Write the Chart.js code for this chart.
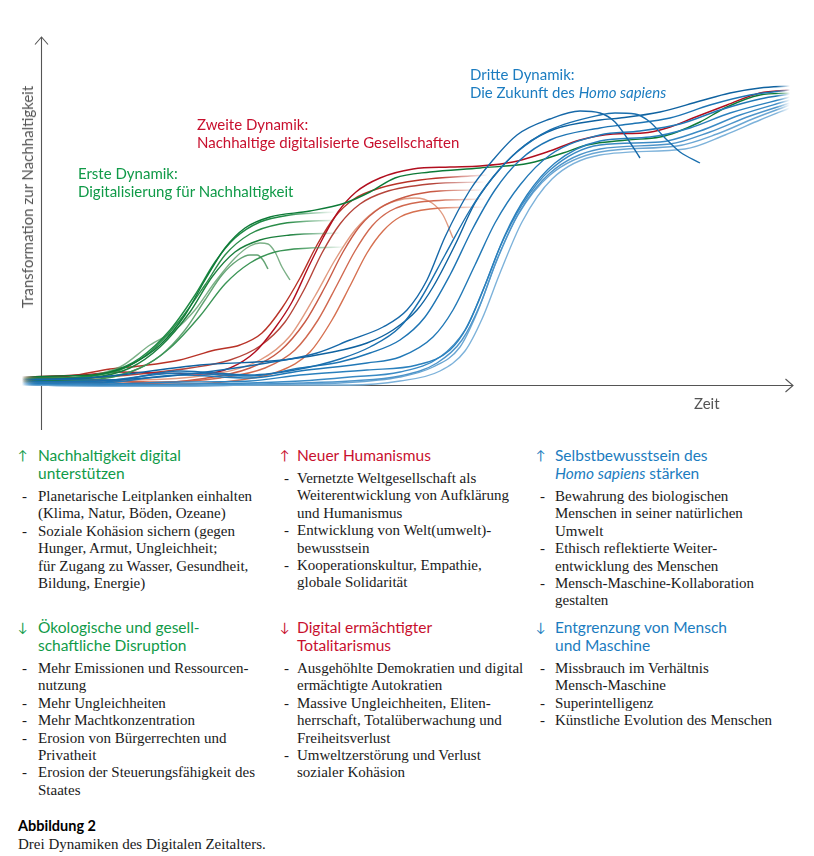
<!DOCTYPE html>
<html lang="de">
<head>
<meta charset="utf-8">
<title>Drei Dynamiken des Digitalen Zeitalters</title>
<script src="https://cdn.jsdelivr.net/npm/chart.js@4.4.1/dist/chart.umd.min.js"></script>
<style>
  html, body { margin:0; padding:0; background:#fff; }
  #page { position:relative; width:814px; height:856px; overflow:hidden; }
  #chart { position:absolute; left:0; top:0; }
  .lbl { position:absolute; font-family:Lato, sans-serif; font-size:15px; line-height:18px; white-space:nowrap; }
  .green { color:#109a48; }
  .red { color:#c8102e; }
  .blue { color:#1b7cc0; }
  .grey { color:#555; }
  #ytitle { left:27px; top:197px; transform:translate(-50%,-50%) rotate(-90deg); }
  .blk { position:absolute; }
  .head { position:relative; font-family:Lato, sans-serif; font-size:15.5px; line-height:18px; white-space:nowrap; }
  .head .arr { position:absolute; left:0; top:0; font-size:13px; }
  ul { list-style:none; margin:6px 0 0 0; padding:0 0 0 var(--ind); font-family:"Liberation Serif", serif; font-size:15px; line-height:17.4px; color:#1a1a1a; white-space:nowrap; }
  li { position:relative; }
  li::before { content:"-"; position:absolute; left:calc(4px - var(--ind)); }
  #cap { position:absolute; left:18px; top:817px; }
  #cap b { display:block; font-family:Lato, sans-serif; font-size:14.5px; line-height:18px; }
  #cap span { display:block; font-family:"Liberation Serif", serif; font-size:15px; line-height:18px; color:#1a1a1a; }
</style>
</head>
<body>
<div id="page">
  <canvas id="chart" width="814" height="440"></canvas>

  <div class="lbl grey" id="ytitle">Transformation zur Nachhaltigkeit</div>
  <div class="lbl grey" style="left:694px; top:394px;">Zeit</div>
  <div class="lbl green" style="left:78px; top:164px;">Erste Dynamik:<br>Digitalisierung für Nachhaltigkeit</div>
  <div class="lbl red" style="left:197px; top:115px;">Zweite Dynamik:<br>Nachhaltige digitalisierte Gesellschaften</div>
  <div class="lbl blue" style="left:470px; top:65px;">Dritte Dynamik:<br>Die Zukunft des <i>Homo sapiens</i></div>

  <!-- Spalte 1 -->
  <div class="blk" style="left:18px; top:446px;">
    <div class="head green" style="padding-left:20px;"><span class="arr">↑</span>Nachhaltigkeit digital<br>unterstützen</div>
    <ul style="--ind:20px;">
      <li>Planetarische Leitplanken einhalten<br>(Klima, Natur, Böden, Ozeane)</li>
      <li>Soziale Kohäsion sichern (gegen<br>Hunger, Armut, Ungleichheit;<br>für Zugang zu Wasser, Gesundheit,<br>Bildung, Energie)</li>
    </ul>
  </div>
  <div class="blk" style="left:18px; top:618px;">
    <div class="head green" style="padding-left:20px;"><span class="arr">↓</span>Ökologische und gesell-<br>schaftliche Disruption</div>
    <ul style="--ind:20px;">
      <li>Mehr Emissionen und Ressourcen-<br>nutzung</li>
      <li>Mehr Ungleichheiten</li>
      <li>Mehr Machtkonzentration</li>
      <li>Erosion von Bürgerrechten und<br>Privatheit</li>
      <li>Erosion der Steuerungsfähigkeit des<br>Staates</li>
    </ul>
  </div>

  <!-- Spalte 2 -->
  <div class="blk" style="left:280px; top:446px;">
    <div class="head red" style="padding-left:17px;"><span class="arr">↑</span>Neuer Humanismus</div>
    <ul style="--ind:17px;">
      <li>Vernetzte Weltgesellschaft als<br>Weiterentwicklung von Aufklärung<br>und Humanismus</li>
      <li>Entwicklung von Welt(umwelt)-<br>bewusstsein</li>
      <li>Kooperationskultur, Empathie,<br>globale Solidarität</li>
    </ul>
  </div>
  <div class="blk" style="left:280px; top:618px;">
    <div class="head red" style="padding-left:17px;"><span class="arr">↓</span>Digital ermächtigter<br>Totalitarismus</div>
    <ul style="--ind:17px;">
      <li>Ausgehöhlte Demokratien und digital<br>ermächtigte Autokratien</li>
      <li>Massive Ungleichheiten, Eliten-<br>herrschaft, Totalüberwachung und<br>Freiheitsverlust</li>
      <li>Umweltzerstörung und Verlust<br>sozialer Kohäsion</li>
    </ul>
  </div>

  <!-- Spalte 3 -->
  <div class="blk" style="left:536px; top:446px;">
    <div class="head blue" style="padding-left:19px;"><span class="arr">↑</span>Selbstbewusstsein des<br><i>Homo sapiens</i> stärken</div>
    <ul style="--ind:19px;">
      <li>Bewahrung des biologischen<br>Menschen in seiner natürlichen<br>Umwelt</li>
      <li>Ethisch reflektierte Weiter-<br>entwicklung des Menschen</li>
      <li>Mensch-Maschine-Kollaboration<br>gestalten</li>
    </ul>
  </div>
  <div class="blk" style="left:536px; top:618px;">
    <div class="head blue" style="padding-left:19px;"><span class="arr">↓</span>Entgrenzung von Mensch<br>und Maschine</div>
    <ul style="--ind:19px;">
      <li>Missbrauch im Verhältnis<br>Mensch-Maschine</li>
      <li>Superintelligenz</li>
      <li>Künstliche Evolution des Menschen</li>
    </ul>
  </div>

  <div id="cap"><b>Abbildung 2</b><span>Drei Dynamiken des Digitalen Zeitalters.</span></div>
</div>

<script>
// Zeit (x) und Transformation (y) in den Einheiten der Skizze; Achsenkreuz bei x=41, y=0
const AXIS_X = 41;
const TIME_MIN = 20, TIME_MAX = 793;
const TRANS_MIN = -45, TRANS_MAX = 348;

// Erste Dynamik (grün)
const green1 = [[22,8],[60,9],[100,11],[130,20],[160,40],[185,70],[205,105],[225,137],[245,157],[270,168],[310,174],[345,182],[370,193],[395,207],[430,213],[480,217],[530,222],[563,232],[587,240],[627,245],[660,248],[677,253],[700,263],[727,278],[760,290],[790,292]];
const green2 = [[22,7],[70,7],[110,13],[140,27],[170,55],[195,90],[215,123],[235,147],[260,163],[290,170],[335,173]];
const green3 = [[22,6],[80,8],[120,15],[150,33],[180,65],[205,100],[225,130],[250,151],[280,161],[338,165]];
const green4 = [[22,4],[90,7],[130,17],[160,38],[190,73],[212,108],[235,133],[260,145],[290,150],[340,152]];
const green5 = [[22,3],[100,6],[140,17],[170,37],[200,69],[225,101],[250,122],[275,133],[310,137],[345,138]];
const green6 = [[22,5],[80,8],[120,18],[150,40],[175,55],[195,75],[215,103],[235,127],[250,139],[260,142],[268,141],[275,133],[282,118],[290,105]];
const green7 = [[22,6],[90,7],[130,13],[160,29],[185,55],[205,85],[222,110],[238,125],[250,130],[257,130],[263,125],[268,116]];

// Zweite Dynamik (rot)
const red1 = [[22,8],[80,10],[120,13],[160,12],[200,11],[230,17],[255,33],[275,57],[292,83],[308,117],[323,147],[338,173],[356,193],[380,207],[413,216],[450,218],[480,219],[513,223],[547,233],[580,245],[613,251],[643,252],[667,257],[693,267],[727,280],[760,292],[790,295]];
const red2 = [[22,7],[70,9],[110,16],[140,19],[180,25],[215,35],[240,40],[262,52],[282,77],[300,107],[317,140],[334,167],[354,186],[380,197],[420,205],[470,209],[488,210]];
const red3 = [[22,6],[90,7],[140,11],[190,17],[230,25],[260,39],[285,63],[305,97],[322,132],[340,161],[360,181],[385,193],[430,201],[485,203]];
const red4 = [[22,5],[100,5],[150,2],[200,6],[250,17],[280,34],[305,63],[325,98],[343,133],[360,159],[380,177],[405,188],[440,194],[485,195]];
const red5 = [[22,4],[110,4],[160,3],[220,7],[265,17],[295,35],[318,65],[337,100],[355,134],[372,159],[390,174],[420,183],[485,186]];
const red6 = [[22,3],[120,2],[180,1],[240,5],[280,14],[310,33],[332,65],[350,99],[367,132],[383,154],[400,168],[430,176],[485,178]];
const red7 = [[22,5],[120,5],[200,9],[260,25],[290,49],[315,89],[335,125],[355,155],[375,174],[395,184],[415,187],[432,182],[443,170],[453,147]];

// Dritte Dynamik (blau)
const blue1 = [[22,6],[100,5],[180,10],[267,22],[317,32],[350,45],[383,58],[407,75],[427,105],[445,148],[470,195],[493,225],[517,250],[550,266],[580,274],[600,272],[615,263],[627,247],[640,227]];
const blue2 = [[22,4],[100,3],[180,14],[250,10],[300,16],[340,26],[370,38],[400,58],[420,85],[445,130],[470,175],[493,208],[517,233],[550,255],[600,270],[615,272],[635,271],[650,263],[665,247],[680,233],[700,222]];
const blue3 = [[22,5],[100,8],[200,20],[283,25],[333,33],[367,42],[393,55],[417,75],[433,98],[455,140],[475,182],[500,216],[525,240],[555,256],[600,265],[620,267],[660,273],[700,284],[730,292],[760,297],[790,299]];
const blue4 = [[22,3],[100,4],[180,12],[250,9],[300,17],[340,23],[370,32],[400,45],[425,68],[450,110],[472,155],[495,195],[520,225],[550,245],[600,257],[630,261],[670,267],[710,280],[750,290],[790,295]];
const blue5 = [[22,2],[100,2],[180,10],[250,7],[300,14],[367,22],[400,28],[433,48],[453,75],[475,120],[495,162],[520,200],[550,230],[600,250],[640,254],[680,261],[720,275],[760,286],[790,291]];
const blue6 = [[22,2],[100,1],[180,3],[250,4],[300,10],[367,15],[417,20],[450,35],[467,58],[485,100],[505,150],[527,190],[555,222],[600,244],[650,248],[690,257],[730,272],[790,288]];
const blue7 = [[22,1],[100,0],[180,1],[250,2],[300,4],[350,8],[400,13],[440,28],[465,55],[482,92],[500,138],[522,180],[550,215],[600,240],[660,243],[700,254],[740,270],[790,285]];
const blue8 = [[22,1],[100,0],[180,0],[250,1],[300,2],[350,4],[400,9],[437,22],[462,45],[480,80],[498,128],[520,174],[550,212],[600,236],[670,241],[710,253],[750,269],[790,282]];
const blue9 = [[22,0],[100,-1],[180,-1],[250,0],[300,1],[340,2],[400,8],[433,18],[460,38],[477,72],[495,120],[518,170],[550,210],[600,233],[677,239],[717,251],[755,267],[790,280]];
const blue10 = [[22,0],[100,-1],[180,-1],[250,0],[300,0],[350,0],[400,4],[440,14],[465,34],[482,66],[500,112],[522,163],[552,206],[600,230],[685,236],[725,250],[760,265],[790,277]];

// Linienstil: Farbe (r,g,b), Deckkraft, Ausblenden am Ende (px)
const curves = [
  { data: blue1, rgb: '22,104,168', alpha: 1, fadeOut: 0 },
  { data: blue2, rgb: '26,111,174', alpha: 1, fadeOut: 0 },
  { data: blue3, rgb: '15,98,160', alpha: 1, fadeOut: 14 },
  { data: blue4, rgb: '29,116,179', alpha: 1, fadeOut: 14 },
  { data: blue5, rgb: '33,120,182', alpha: 1, fadeOut: 14 },
  { data: blue6, rgb: '42,128,189', alpha: 1, fadeOut: 14 },
  { data: blue7, rgb: '58,138,196', alpha: 1, fadeOut: 14 },
  { data: blue8, rgb: '77,148,201', alpha: 1, fadeOut: 14 },
  { data: blue9, rgb: '106,166,211', alpha: 1, fadeOut: 14 },
  { data: blue10, rgb: '125,178,218', alpha: 1, fadeOut: 14 },
  { data: green1, rgb: '13,122,55', alpha: 1, fadeOut: 14 },
  { data: green2, rgb: '31,138,69', alpha: 1, fadeOut: 50 },
  { data: green3, rgb: '42,140,72', alpha: 1, fadeOut: 50 },
  { data: green4, rgb: '26,127,60', alpha: 1, fadeOut: 50 },
  { data: green5, rgb: '58,148,85', alpha: 1, fadeOut: 50 },
  { data: green6, rgb: '80,150,95', alpha: 0.75, fadeOut: 0 },
  { data: green7, rgb: '60,140,80', alpha: 0.8, fadeOut: 0 },
  { data: red1, rgb: '177,14,30', alpha: 1, fadeOut: 14 },
  { data: red2, rgb: '184,50,39', alpha: 1, fadeOut: 50 },
  { data: red3, rgb: '181,68,58', alpha: 1, fadeOut: 50 },
  { data: red4, rgb: '200,90,69', alpha: 1, fadeOut: 50 },
  { data: red5, rgb: '208,104,79', alpha: 1, fadeOut: 50 },
  { data: red6, rgb: '214,112,80', alpha: 1, fadeOut: 50 },
  { data: red7, rgb: '225,154,128', alpha: 1, fadeOut: 0 }
];

// Linie am Anfang einblenden, ggf. am Ende ausblenden
function fadeStroke(context) {
  const chart = context.chart, ds = context.dataset;
  if (!ds) return '#000';
  const solid = `rgba(${ds.rgb},${ds.alpha})`;
  if (!chart.chartArea || !chart.scales.x) return solid;
  const xs = chart.scales.x;
  const a = xs.getPixelForValue(ds.data[0].x);
  const b = xs.getPixelForValue(ds.data[ds.data.length - 1].x);
  const w = b - a;
  const g = chart.ctx.createLinearGradient(a, 0, b, 0);
  g.addColorStop(0, `rgba(${ds.rgb},0)`);
  g.addColorStop(Math.min(0.4, 16 / w), solid);
  if (ds.fadeOut) {
    g.addColorStop(Math.max(0.5, 1 - ds.fadeOut / w), solid);
    g.addColorStop(1, `rgba(${ds.rgb},0)`);
  } else {
    g.addColorStop(1, solid);
  }
  return g;
}

// Achsen mit Pfeilspitzen
const arrowAxes = {
  id: 'arrowAxes',
  beforeDatasetsDraw(chart) {
    const { ctx, scales: { x, y } } = chart;
    const x0 = Math.round(x.getPixelForValue(AXIS_X)) + 0.5;
    const y0 = Math.round(y.getPixelForValue(0)) + 0.5;
    const yTop = y.getPixelForValue(TRANS_MAX), yBot = y.getPixelForValue(TRANS_MIN);
    const xEnd = x.getPixelForValue(TIME_MAX);
    ctx.save();
    ctx.strokeStyle = '#555';
    ctx.lineWidth = 1.1;
    ctx.beginPath();
    ctx.moveTo(x0, yBot); ctx.lineTo(x0, yTop);
    ctx.moveTo(x0, y0); ctx.lineTo(xEnd, y0);
    ctx.stroke();
    ctx.beginPath();
    ctx.moveTo(x0 - 6.5, yTop + 7.5); ctx.lineTo(x0, yTop); ctx.lineTo(x0 + 6.5, yTop + 7.5);
    ctx.moveTo(xEnd - 7.5, y0 - 6.5); ctx.lineTo(xEnd, y0); ctx.lineTo(xEnd - 7.5, y0 + 6.5);
    ctx.stroke();
    ctx.restore();
  }
};

const chart = new Chart(document.getElementById('chart').getContext('2d'), {
  type: 'line',
  data: {
    datasets: curves.map(c => ({
      data: c.data.map(p => ({ x: p[0], y: p[1] })),
      rgb: c.rgb, alpha: c.alpha, fadeOut: c.fadeOut,
      borderColor: fadeStroke,
      borderWidth: 1.4,
      pointRadius: 0,
      fill: false,
      cubicInterpolationMode: 'monotone'
    }))
  },
  options: {
    responsive: false,
    animation: false,
    events: [],
    layout: { padding: { left: 20, right: 21, top: 37, bottom: 10 } },
    scales: {
      x: { type: 'linear', min: TIME_MIN, max: TIME_MAX, display: false },
      y: { type: 'linear', min: TRANS_MIN, max: TRANS_MAX, display: false }
    },
    plugins: { legend: { display: false }, tooltip: { enabled: false } }
  },
  plugins: [arrowAxes]
});
chart.update('none');
</script>
</body>
</html>
